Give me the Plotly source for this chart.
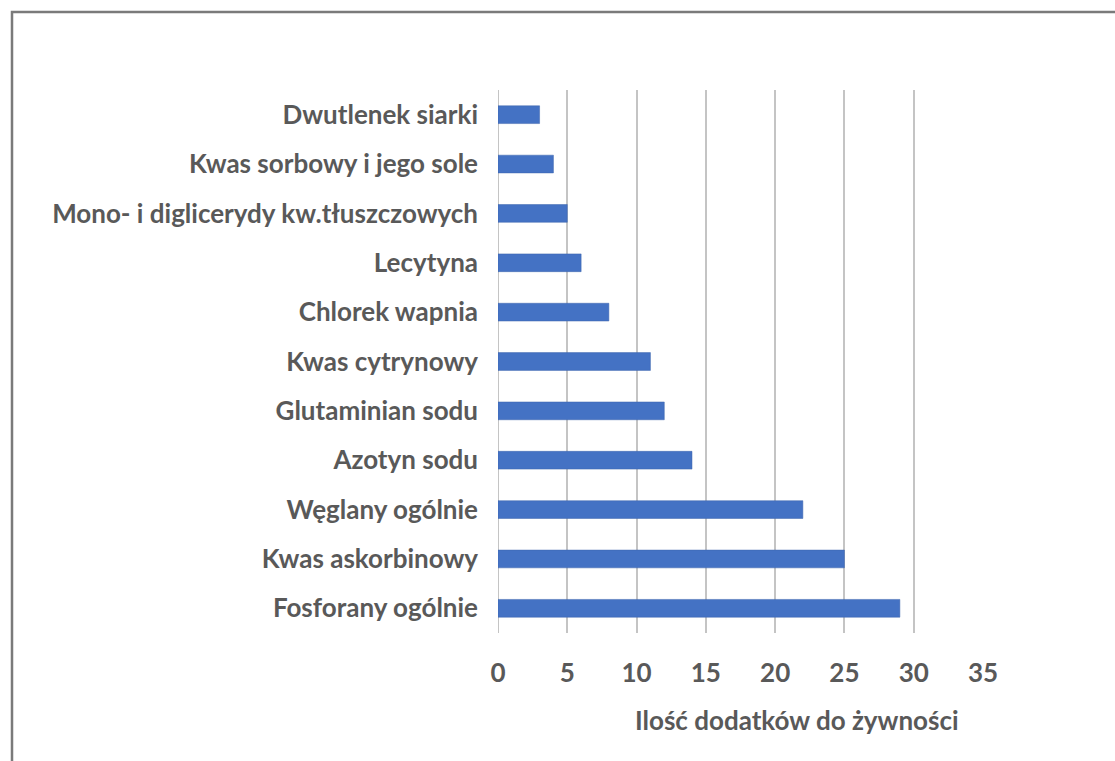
import plotly.graph_objects as go

categories = [
    "Fosforany ogólnie",
    "Kwas askorbinowy",
    "Węglany ogólnie",
    "Azotyn sodu",
    "Glutaminian sodu",
    "Kwas cytrynowy",
    "Chlorek wapnia",
    "Lecytyna",
    "Mono- i diglicerydy kw.tłuszczowych",
    "Kwas sorbowy i jego sole",
    "Dwutlenek siarki",
]
counts = [29, 25, 22, 14, 12, 11, 8, 6, 5, 4, 3]
x_ticks = [0, 5, 10, 15, 20, 25, 30, 35]
x_title = "Ilość dodatków do żywności"

W, H = 1115, 761
L, R, T, B = 497.5, 132, 90, 128
pw, ph = W - L - R, H - T - B

def px(x):
    return (x - L) / pw

def py(y):
    return (H - B - y) / ph

text_color = "#595959"
font_family = "Lato, 'Open Sans', sans-serif"
fsize = 26

fig = go.Figure(
    go.Bar(
        x=counts,
        y=categories,
        orientation="h",
        width=0.36,
        marker=dict(color="#4472C4", line=dict(color="#3d65ad", width=0.5)),
    )
)

fig.update_layout(
    width=W,
    height=H,
    margin=dict(l=L, r=R, t=T, b=B, pad=0),
    paper_bgcolor="white",
    plot_bgcolor="white",
    showlegend=False,
    font=dict(family=font_family, color=text_color),
)

fig.update_xaxes(
    range=[0, 35],
    tickvals=x_ticks,
    ticktext=[str(v) for v in x_ticks],
    showgrid=True,
    gridcolor="#c4c4c4",
    gridwidth=2,
    zeroline=False,
    showline=False,
    ticks="",
    ticklabelstandoff=22,
    tickfont=dict(size=fsize, color=text_color, family=font_family, weight="bold"),
)

fig.update_yaxes(
    categoryorder="array",
    categoryarray=categories,
    range=[-0.5, len(categories) - 0.5],
    showgrid=False,
    zeroline=False,
    showline=False,
    ticks="",
    ticklabelstandoff=19,
    tickfont=dict(size=fsize, color=text_color, family=font_family, weight="bold"),
)

# zero gridline drawn as a shape so it matches the other gridlines
fig.add_shape(
    type="line", xref="x", yref="paper", x0=0, x1=0, y0=0, y1=1,
    line=dict(color="#c4c4c4", width=2), layer="below",
)

fig.add_annotation(
    text=x_title,
    xref="paper", yref="paper",
    x=px(797), y=py(720),
    xanchor="center", yanchor="middle",
    showarrow=False,
    font=dict(size=fsize, color=text_color, family=font_family, weight="bold"),
)

# outer frame of the chart area
fig.add_shape(
    type="rect", xref="paper", yref="paper",
    x0=px(11), x1=px(1140), y0=py(12), y1=py(775),
    line=dict(color="#7a7a7a", width=2.5),
    fillcolor="rgba(0,0,0,0)",
)

fig.write_html("out.html")
